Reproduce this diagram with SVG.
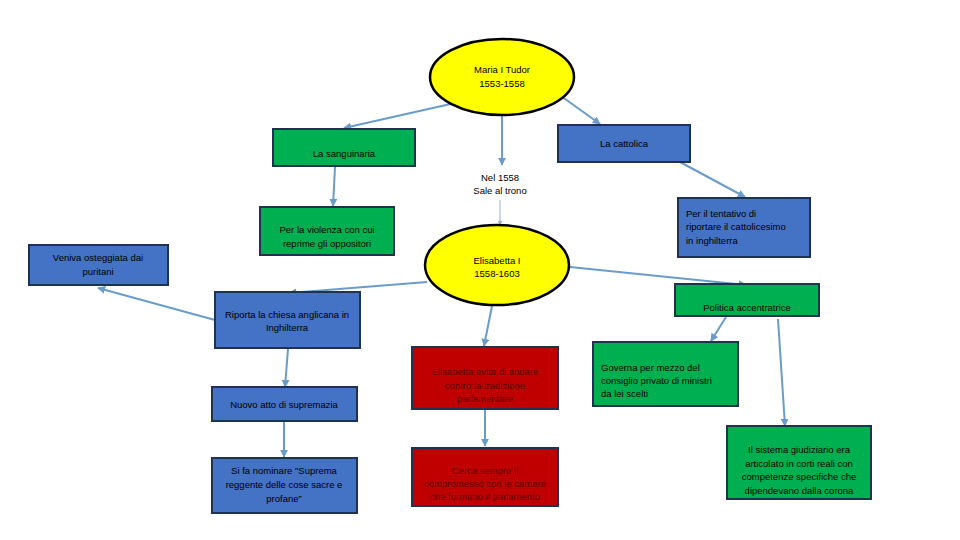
<svg xmlns="http://www.w3.org/2000/svg" width="960" height="540" viewBox="0 0 960 540">
<defs>
<style>
text{font-family:"Liberation Sans","Open Sans",sans-serif;font-size:9.5px;fill:#000;text-anchor:middle}
.l{text-anchor:start}
.rt{fill:#5a0000}
.g{fill:#00b050;stroke:#1f3350;stroke-width:2}
.b{fill:#4472c4;stroke:#1f3350;stroke-width:2}
.r{fill:#c00000;stroke:#1f3350;stroke-width:2}
.y{fill:#ffff00;stroke:#000;stroke-width:2.5}
.c{stroke:#6a9cc9;stroke-width:2;fill:none;marker-end:url(#a)}
.t{stroke:#9ab3cc;stroke-width:1;fill:none;marker-end:url(#a2)}
</style>
<marker id="a" viewBox="0 0 10 10" refX="9" refY="5" markerWidth="4" markerHeight="4" orient="auto"><path d="M0,0L10,5L0,10z" fill="#6a9cc9"/></marker>
<marker id="a2" viewBox="0 0 10 10" refX="9" refY="5" markerWidth="5" markerHeight="5" orient="auto"><path d="M0,0L10,5L0,10z" fill="#9ab3cc"/></marker>
</defs>
<rect width="960" height="540" fill="#fff"/>
<g id="connectors">
<line class="c" x1="455" y1="103" x2="344" y2="128"/>
<line class="c" x1="502" y1="116" x2="502" y2="165"/>
<line class="c" x1="561" y1="96" x2="600" y2="124"/>
<line class="c" x1="680" y1="162" x2="745" y2="197"/>
<line class="c" x1="335" y1="167" x2="333" y2="206"/>
<line class="t" x1="500" y1="200" x2="500" y2="225"/>
<line class="c" x1="570" y1="267" x2="746" y2="285"/>
<line class="c" x1="427" y1="282" x2="289" y2="293"/>
<line class="c" x1="215" y1="320" x2="98" y2="288"/>
<line class="c" x1="288" y1="349" x2="285" y2="387"/>
<line class="c" x1="284" y1="421" x2="284" y2="457"/>
<line class="c" x1="492" y1="306" x2="484" y2="346"/>
<line class="c" x1="485" y1="410" x2="485" y2="446"/>
<line class="c" x1="726" y1="317" x2="711" y2="341"/>
<line class="c" x1="778" y1="319" x2="785" y2="426"/>
</g>
<g id="maria"><ellipse class="y" cx="502" cy="77" rx="72" ry="38"/><text x="502" y="73">Maria I Tudor</text><text x="502" y="87">1553-1558</text></g>
<g id="sanguinaria"><rect class="g" x="273" y="129" width="142" height="37"/><text x="344" y="157">La sanguinaria</text></g>
<g id="cattolica"><rect class="b" x="558" y="125" width="132" height="37"/><text x="624" y="147">La cattolica</text></g>
<g id="nel1558"><text x="500" y="181">Nel 1558</text><text x="500" y="194">Sale al trono</text></g>
<g id="violenza"><rect class="g" x="260" y="207" width="134" height="48"/><text x="327" y="233">Per la violenza con cui</text><text x="327" y="247">reprime gli oppositori</text></g>
<g id="veniva"><rect class="b" x="29" y="245" width="139" height="40"/><text x="98" y="261">Veniva osteggiata dai</text><text x="98" y="275">puritani</text></g>
<g id="tentativo"><rect class="b" x="678" y="198" width="132" height="59"/><text class="l" x="686" y="217">Per il tentativo di</text><text class="l" x="686" y="230">riportare il cattolicesimo</text><text class="l" x="686" y="244">in inghilterra</text></g>
<g id="elisabetta"><ellipse class="y" cx="497" cy="265" rx="72" ry="40"/><text x="497" y="264">Elisabetta I</text><text x="497" y="277">1558-1603</text></g>
<g id="politica"><rect class="g" x="675" y="284" width="144" height="32"/><text x="747" y="311">Politica accentratrice</text></g>
<g id="riporta"><rect class="b" x="215" y="292" width="145" height="56"/><text x="287" y="318">Riporta la chiesa anglicana in</text><text x="287" y="331">Inghilterra</text></g>
<g id="nuovo"><rect class="b" x="212" y="387" width="145" height="34"/><text x="284" y="408">Nuovo atto di supremazia</text></g>
<g id="sifa"><rect class="b" x="212" y="458" width="145" height="55"/><text x="284" y="474">Si fa nominare "Suprema</text><text x="284" y="488">reggente delle cose sacre e</text><text x="284" y="502">profane”</text></g>
<g id="evita"><rect class="r" x="412" y="347" width="146" height="62"/><text class="rt" x="485" y="375">Elisabetta evita di andare</text><text class="rt" x="485" y="389">contro la tradizione</text><text class="rt" x="485" y="402">parlamentare</text></g>
<g id="cerca"><rect class="r" x="412" y="448" width="146" height="58"/><text class="rt" x="485" y="474">Cerca sempre il</text><text class="rt" x="485" y="487">compromesso con le camere</text><text class="rt" x="485" y="500">che formano il parlamento</text></g>
<g id="governa"><rect class="g" x="593" y="342" width="145" height="64"/><text class="l" x="601" y="371">Governa per mezzo del</text><text class="l" x="601" y="384">consiglio privato di ministri</text><text class="l" x="601" y="397">da lei scelti</text></g>
<g id="sistema"><rect class="g" x="727" y="426" width="144" height="73"/><text x="799" y="453">Il sistema giudiziario era</text><text x="799" y="467">articolato in corti reali con</text><text x="799" y="480">competenze specifiche che</text><text x="799" y="494">dipendevano dalla corona</text></g>
</svg>
